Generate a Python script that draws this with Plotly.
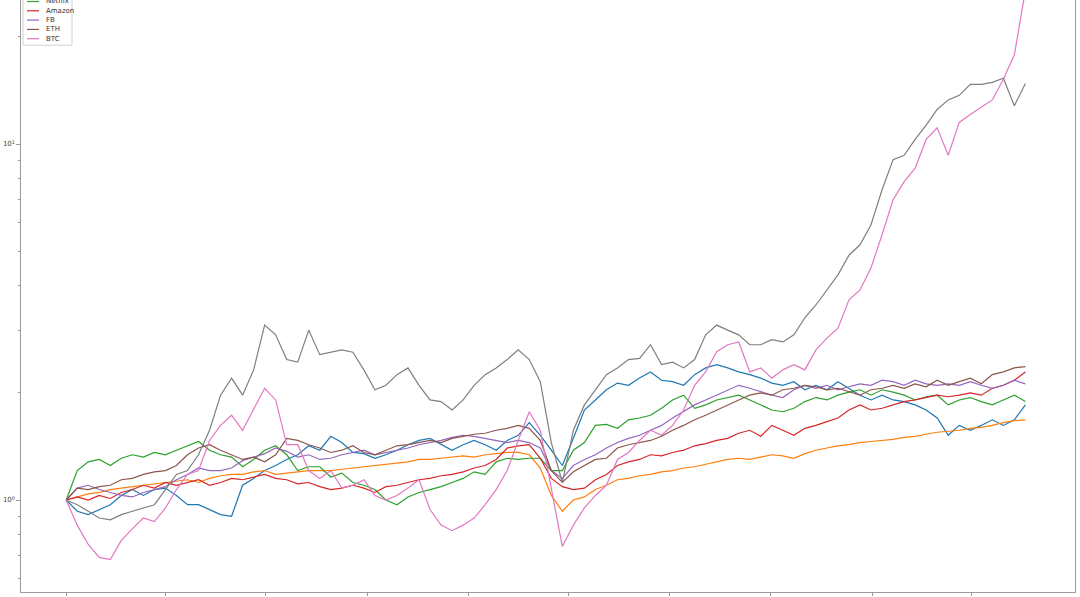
import pandas as pd
import plotly.graph_objects as go

# ---------------- data (normalised prices) ----------------
dates = pd.date_range("2019-01-01", periods=88, freq="10D")

blue = [1.00, 0.93, 0.91, 0.94, 0.97, 1.03, 1.07, 1.03, 1.07, 1.08,
        1.03, 0.97, 0.97, 0.94, 0.91, 0.90, 1.10, 1.15, 1.21, 1.25,
        1.30, 1.34, 1.42, 1.38, 1.51, 1.45, 1.36, 1.35, 1.31, 1.34,
        1.38, 1.43, 1.47, 1.49, 1.43, 1.38, 1.43, 1.47, 1.43, 1.38,
        1.47, 1.52, 1.65, 1.52, 1.38, 1.25, 1.49, 1.79, 1.91, 2.04,
        2.13, 2.10, 2.20, 2.29, 2.17, 2.15, 2.10, 2.25, 2.35, 2.40,
        2.35, 2.29, 2.25, 2.20, 2.13, 2.10, 2.15, 2.04, 2.10, 2.04,
        2.15, 2.06, 1.97, 1.91, 1.97, 1.91, 1.89, 1.85, 1.79, 1.70,
        1.52, 1.62, 1.57, 1.62, 1.68, 1.62, 1.68, 1.85]

orange = [1.00, 1.02, 1.04, 1.05, 1.07, 1.08, 1.09, 1.10, 1.11, 1.12,
          1.13, 1.14, 1.12, 1.15, 1.17, 1.18, 1.18, 1.20, 1.21, 1.18,
          1.19, 1.20, 1.21, 1.21, 1.21, 1.22, 1.23, 1.24, 1.25, 1.26,
          1.27, 1.28, 1.30, 1.30, 1.31, 1.32, 1.33, 1.32, 1.34, 1.35,
          1.36, 1.36, 1.34, 1.23, 1.03, 0.93, 1.00, 1.02, 1.07, 1.10,
          1.14, 1.15, 1.17, 1.18, 1.20, 1.21, 1.23, 1.24, 1.26, 1.28,
          1.30, 1.31, 1.30, 1.32, 1.34, 1.33, 1.31, 1.35, 1.38, 1.40,
          1.42, 1.43, 1.45, 1.46, 1.47, 1.48, 1.50, 1.51, 1.53, 1.55,
          1.56, 1.57, 1.59, 1.60, 1.62, 1.65, 1.67, 1.68]

green = [1.00, 1.21, 1.28, 1.30, 1.25, 1.31, 1.34, 1.32, 1.36, 1.34,
         1.38, 1.42, 1.46, 1.38, 1.34, 1.32, 1.24, 1.30, 1.38, 1.42,
         1.34, 1.21, 1.24, 1.24, 1.16, 1.19, 1.12, 1.10, 1.07, 1.00,
         0.97, 1.02, 1.05, 1.07, 1.09, 1.12, 1.15, 1.20, 1.18, 1.28,
         1.31, 1.30, 1.31, 1.31, 1.21, 1.21, 1.38, 1.45, 1.62, 1.63,
         1.59, 1.68, 1.70, 1.73, 1.81, 1.91, 1.97, 1.81, 1.85, 1.91,
         1.94, 1.97, 1.91, 1.85, 1.79, 1.77, 1.81, 1.89, 1.94, 1.91,
         1.97, 2.01, 2.04, 1.97, 2.04, 2.01, 1.97, 1.91, 1.95, 1.97,
         1.85, 1.91, 1.94, 1.89, 1.85, 1.91, 1.97, 1.89]

red = [1.00, 1.02, 1.00, 1.03, 1.01, 1.05, 1.07, 1.10, 1.08, 1.12,
       1.10, 1.12, 1.14, 1.10, 1.12, 1.15, 1.14, 1.16, 1.18, 1.15,
       1.14, 1.11, 1.12, 1.09, 1.07, 1.08, 1.10, 1.08, 1.05, 1.09,
       1.10, 1.12, 1.14, 1.15, 1.17, 1.18, 1.20, 1.23, 1.25, 1.30,
       1.40, 1.42, 1.43, 1.31, 1.15, 1.09, 1.07, 1.08, 1.14, 1.18,
       1.25, 1.28, 1.30, 1.34, 1.33, 1.36, 1.38, 1.42, 1.44, 1.47,
       1.49, 1.54, 1.57, 1.51, 1.62, 1.57, 1.52, 1.59, 1.62, 1.66,
       1.70, 1.79, 1.85, 1.79, 1.81, 1.85, 1.89, 1.91, 1.94, 1.97,
       1.95, 1.97, 2.00, 1.97, 2.06, 2.10, 2.17, 2.29]

purple = [1.00, 1.08, 1.10, 1.07, 1.05, 1.03, 1.02, 1.05, 1.07, 1.09,
          1.14, 1.18, 1.23, 1.21, 1.21, 1.23, 1.29, 1.32, 1.35, 1.40,
          1.37, 1.32, 1.34, 1.30, 1.31, 1.34, 1.36, 1.38, 1.34, 1.36,
          1.38, 1.40, 1.43, 1.45, 1.47, 1.50, 1.52, 1.51, 1.49, 1.47,
          1.45, 1.47, 1.45, 1.40, 1.21, 1.15, 1.25, 1.30, 1.34, 1.40,
          1.45, 1.49, 1.52, 1.57, 1.62, 1.70, 1.77, 1.85, 1.91, 1.97,
          2.04, 2.10, 2.06, 2.01, 1.97, 1.94, 2.04, 2.10, 2.06, 2.10,
          2.04, 2.08, 2.12, 2.10, 2.17, 2.15, 2.10, 2.17, 2.12, 2.10,
          2.12, 2.10, 2.15, 2.10, 2.06, 2.10, 2.17, 2.12]

brown = [1.00, 1.08, 1.07, 1.09, 1.10, 1.14, 1.15, 1.18, 1.20, 1.21,
         1.25, 1.34, 1.40, 1.43, 1.38, 1.34, 1.30, 1.32, 1.28, 1.34,
         1.49, 1.47, 1.43, 1.40, 1.36, 1.38, 1.42, 1.36, 1.34, 1.38,
         1.42, 1.43, 1.45, 1.47, 1.45, 1.49, 1.51, 1.53, 1.54, 1.57,
         1.59, 1.62, 1.59, 1.47, 1.21, 1.12, 1.20, 1.25, 1.30, 1.31,
         1.40, 1.43, 1.45, 1.47, 1.51, 1.57, 1.62, 1.68, 1.73, 1.79,
         1.85, 1.91, 1.97, 2.00, 1.97, 2.04, 2.06, 2.10, 2.08, 2.04,
         2.06, 2.01, 1.97, 2.04, 2.06, 2.10, 2.06, 2.12, 2.08, 2.17,
         2.10, 2.15, 2.20, 2.12, 2.25, 2.29, 2.35, 2.37]

pink = [1.00, 0.85, 0.75, 0.69, 0.68, 0.77, 0.83, 0.89, 0.87, 0.95,
        1.07, 1.18, 1.21, 1.47, 1.62, 1.73, 1.57, 1.79, 2.06, 1.91,
        1.43, 1.43, 1.21, 1.15, 1.21, 1.08, 1.10, 1.14, 1.03, 1.00,
        1.03, 1.08, 1.14, 0.94, 0.85, 0.82, 0.85, 0.89, 0.97, 1.07,
        1.21, 1.47, 1.77, 1.57, 1.07, 0.74, 0.85, 0.95, 1.03, 1.10,
        1.30, 1.36, 1.47, 1.57, 1.52, 1.62, 1.79, 2.10, 2.29, 2.61,
        2.73, 2.78, 2.29, 2.35, 2.20, 2.32, 2.40, 2.32, 2.64, 2.85,
        3.04, 3.65, 3.89, 4.49, 5.56, 6.97, 7.84, 8.55, 10.3, 11.1,
        9.3, 11.5, 12.1, 12.7, 13.3, 15.2, 17.8, 27.0]

gray = [1.00, 0.97, 0.93, 0.89, 0.88, 0.91, 0.93, 0.95, 0.97, 1.07,
        1.18, 1.21, 1.34, 1.57, 1.97, 2.20, 1.97, 2.32, 3.10, 2.91,
        2.48, 2.44, 3.00, 2.56, 2.60, 2.64, 2.60, 2.32, 2.04, 2.10,
        2.25, 2.35, 2.10, 1.91, 1.89, 1.79, 1.91, 2.10, 2.25, 2.35,
        2.48, 2.64, 2.48, 2.15, 1.45, 1.12, 1.57, 1.85, 2.04, 2.25,
        2.35, 2.48, 2.50, 2.73, 2.40, 2.44, 2.35, 2.48, 2.91, 3.10,
        3.00, 2.91, 2.73, 2.73, 2.82, 2.78, 2.91, 3.25, 3.53, 3.89,
        4.29, 4.87, 5.21, 5.93, 7.44, 9.04, 9.30, 10.3, 11.3, 12.5,
        13.3, 13.7, 14.7, 14.7, 14.9, 15.3, 12.8, 14.8]

series_names = ["Apple", "S&P 500", "Netflix", "Amazon", "FB", "ETH", "BTC", "Crypto"]
series_values = [blue, orange, green, red, purple, brown, pink, gray]
series_colors = ["#1f77b4", "#ff7f0e", "#2ca02c", "#d62728",
                 "#9467bd", "#8c564b", "#e377c2", "#7f7f7f"]
legend_labels = ["Netflix", "Amazon", "FB", "ETH", "BTC"]

x_ticks = pd.date_range("2019-01-01", "2021-04-01", freq="QS")
y_major = [1, 10]
y_major_text = ["10<sup>0</sup>", "10<sup>1</sup>"]
y_minor = [0.6, 0.7, 0.8, 0.9, 2, 3, 4, 5, 6, 7, 8, 9, 20]

# ---------------- figure ----------------
W, H = 1080, 597
ML, MR, MT, MB = 21, 5, 0, 5
PW, PH = W - ML - MR, H - MT - MB

fig = go.Figure()
for name, vals, col in zip(series_names, series_values, series_colors):
    fig.add_trace(go.Scatter(x=dates, y=vals, mode="lines", name=name,
                             line=dict(color=col, width=1.2), showlegend=False))

axis_col = "#9a9a9a"
font = dict(family="DejaVu Sans", size=7, color="#444444")

fig.update_layout(
    width=W, height=H,
    margin=dict(l=ML, r=MR, t=MT, b=MB, autoexpand=False),
    paper_bgcolor="white", plot_bgcolor="white",
    font=font,
    showlegend=False,
    xaxis=dict(type="date", range=["2018-11-21", "2021-07-04"], automargin=False,
               showgrid=False, zeroline=False, showline=True, linecolor=axis_col,
               linewidth=1.3, mirror=False, ticks="outside", ticklen=3,
               tickcolor=axis_col, tickvals=list(x_ticks), tickformat="%Y-%m",
               tickfont=font),
    yaxis=dict(type="log", range=[-0.2584, 1.4045], automargin=False,
               showgrid=False, zeroline=False, showline=True, linecolor=axis_col,
               linewidth=1.3, mirror=True, ticks="outside", ticklen=3.5,
               tickcolor=axis_col, tickvals=y_major, ticktext=y_major_text,
               tickfont=font,
               minor=dict(tickvals=y_minor, ticks="outside", ticklen=2,
                          tickcolor=axis_col, showgrid=False)),
)

# ---------------- legend (matplotlib style, top-left, partly cut off) ----------------
def px_x(px):
    return (px - ML) / PW


def px_y(py):
    return (H - MB - py) / PH


leg_first_y, leg_step = 1.5, 9.3
leg_line_x0, leg_line_x1, leg_text_x = 27, 39, 44
box_left, box_right = 23, 72
box_bottom = leg_first_y + leg_step * (len(legend_labels) - 1) + 6.5

fig.add_shape(type="rect", xref="paper", yref="paper",
              x0=px_x(box_left), x1=px_x(box_right),
              y0=px_y(box_bottom), y1=px_y(-20),
              line=dict(color="#d0d0d0", width=1), fillcolor="rgba(255,255,255,0.85)",
              layer="above")

label_colors = [series_colors[series_names.index(lbl)] for lbl in legend_labels]
for k, (lbl, col) in enumerate(zip(legend_labels, label_colors)):
    yy = leg_first_y + leg_step * k
    fig.add_shape(type="line", xref="paper", yref="paper",
                  x0=px_x(leg_line_x0), x1=px_x(leg_line_x1),
                  y0=px_y(yy), y1=px_y(yy),
                  line=dict(color=col, width=1.2), layer="above")
    fig.add_annotation(xref="paper", yref="paper", x=px_x(leg_text_x), y=px_y(yy),
                       text=lbl, showarrow=False, xanchor="left", yanchor="middle",
                       font=dict(family="DejaVu Sans", size=7, color="#333333"))

# remove the browser's default page margin so the figure sits at the window's corner
page_fix = "document.body.style.margin='0';document.body.style.overflow='hidden';"
fig.write_html("out.html", post_script=page_fix, config={"displayModeBar": False})
